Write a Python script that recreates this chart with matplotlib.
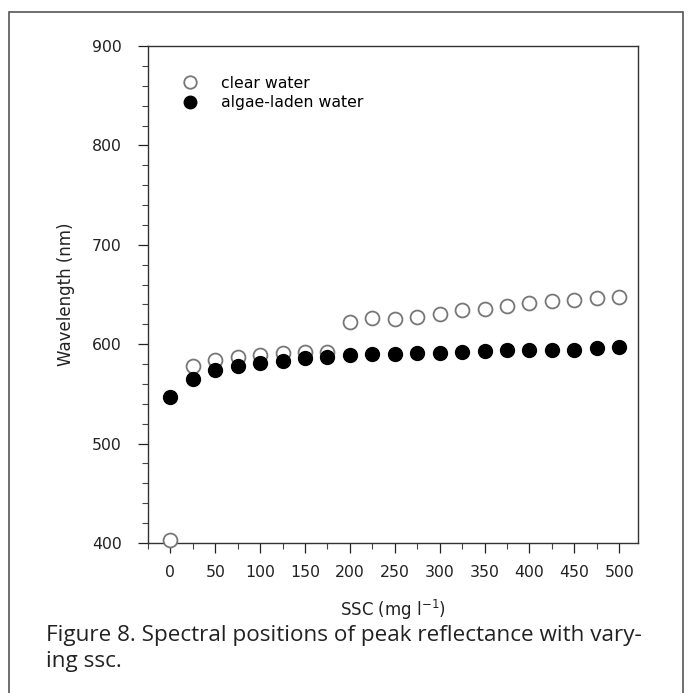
import matplotlib
matplotlib.use("Agg")
import matplotlib.pyplot as plt
from matplotlib.patches import Rectangle
from matplotlib.ticker import MultipleLocator

ssc = [0, 25, 50, 75, 100, 125, 150, 175, 200, 225, 250, 275, 300, 325, 350, 375, 400, 425, 450, 475, 500]
clear_water = [403, 578, 584, 587, 589, 591, 592, 592, 622, 626, 625, 627, 630, 634, 635, 638, 641, 643, 644, 646, 647]
algae_water = [547, 565, 574, 578, 581, 583, 586, 587, 589, 590, 590, 591, 591, 592, 593, 594, 594, 594, 594, 596, 597]
x_ticks = [0, 50, 100, 150, 200, 250, 300, 350, 400, 450, 500]
y_ticks = [400, 500, 600, 700, 800, 900]

plt.rcParams['font.family'] = ['DejaVu Sans']

W, H = 691, 693
fig = plt.figure(figsize=(W / 100, H / 100), dpi=100)
fig.patch.set_facecolor('white')

# outer frame
fig.patches.append(Rectangle((9 / W, -0.05), (683 - 9) / W, 1.05 - 12 / H,
                             transform=fig.transFigure, fill=False,
                             edgecolor='#555555', linewidth=1.2))

ax = fig.add_axes([148 / W, 1 - 543 / H, (638 - 148) / W, (543 - 46) / H])
ax.plot(ssc, clear_water, linestyle='none', marker='o', markersize=10,
        markerfacecolor='white', markeredgecolor='#777777', markeredgewidth=1.3,
        label='clear water', clip_on=False, zorder=3)
ax.plot(ssc, algae_water, linestyle='none', marker='o', markersize=10,
        markerfacecolor='black', markeredgecolor='black',
        label='algae-laden water', clip_on=False, zorder=4)

ax.set_xlim(-25, 521)
ax.set_ylim(400, 900)
ax.set_xticks(x_ticks)
ax.set_yticks(y_ticks)
ax.xaxis.set_minor_locator(MultipleLocator(25))
ax.yaxis.set_minor_locator(MultipleLocator(20))
ax.tick_params(axis='both', which='major', direction='out', length=7, width=0.9, labelsize=11.3, colors='#222222')
ax.tick_params(axis='both', which='minor', direction='out', length=4, width=0.8, colors='#444444')
ax.tick_params(axis='x', pad=9)
ax.tick_params(axis='y', pad=12)
for sp in ax.spines.values():
    sp.set_color('#333333')
    sp.set_linewidth(1.0)

ax.set_xlabel('SSC (mg l$^{\\mathregular{-1}}$)', fontsize=12, labelpad=13, color='#222222')
ax.set_ylabel('Wavelength (nm)', fontsize=12, labelpad=12, color='#222222')

leg = ax.legend(loc='upper left', bbox_to_anchor=(0.053, 0.94), frameon=False,
                fontsize=11.3, handlelength=2.0, handletextpad=1.0, labelspacing=0.27,
                borderaxespad=0.0, borderpad=0.0, markerscale=0.9)

cap_font = ['Open Sans', 'DejaVu Sans']
fig.text(46 / W, 1 - 641 / H, 'Figure 8. Spectral positions of peak reflectance with vary-',
         fontsize=16.2, family=cap_font, color='#222222', va='baseline')
fig.text(46 / W, 1 - 667 / H, 'ing ssc.',
         fontsize=16.2, family=cap_font, color='#222222', va='baseline')

fig.savefig('out.png', dpi=100, facecolor='white')
